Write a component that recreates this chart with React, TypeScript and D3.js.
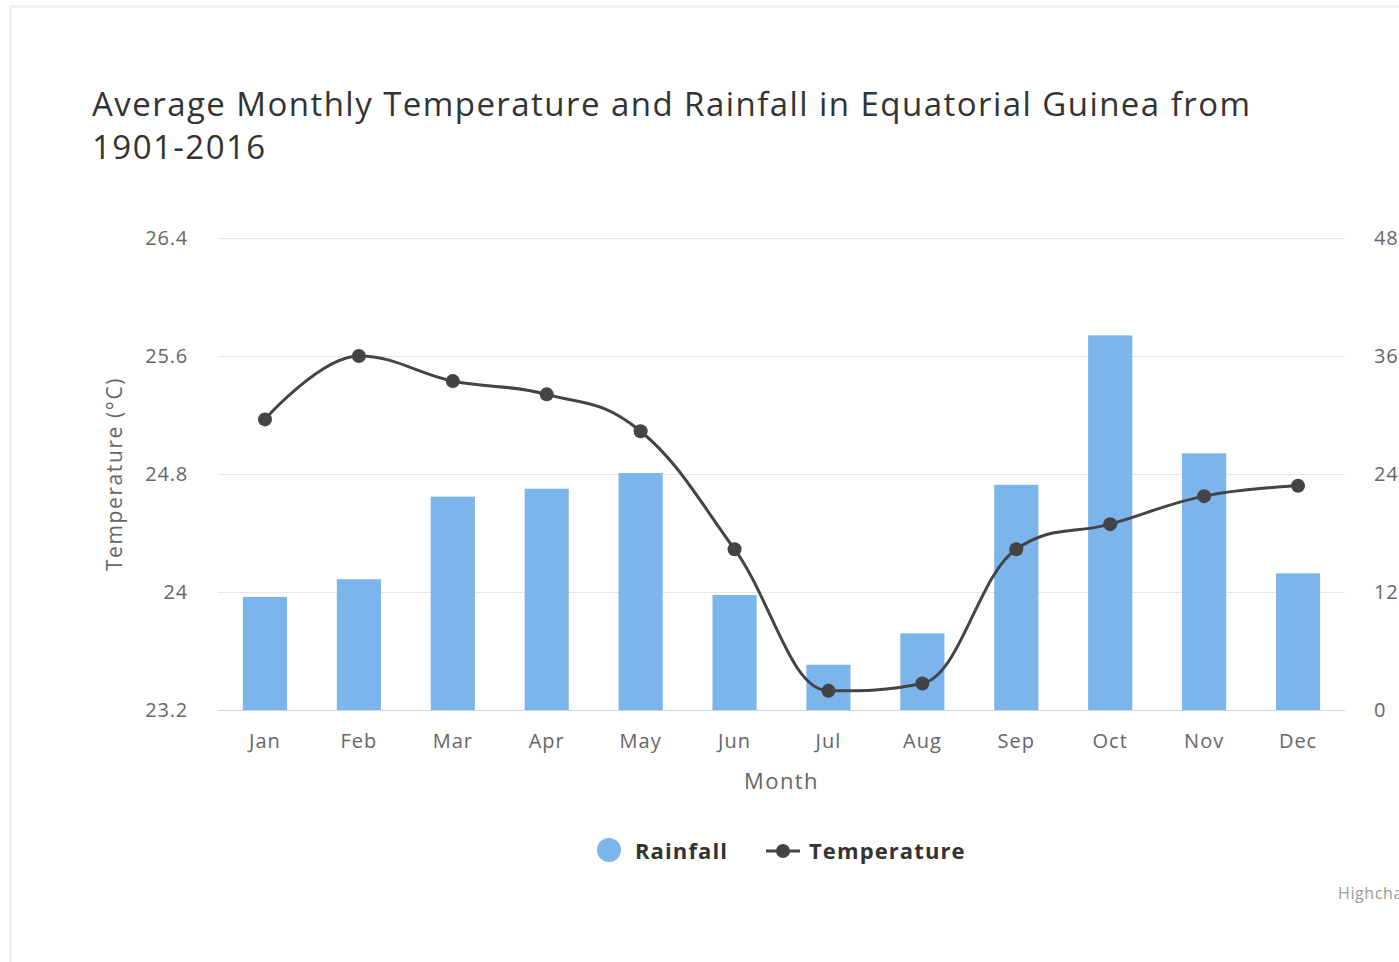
import * as d3 from "d3"

const months = ["Jan", "Feb", "Mar", "Apr", "May", "Jun", "Jul", "Aug", "Sep", "Oct", "Nov", "Dec"]
const rainfall = [11.5, 13.3, 21.7, 22.5, 24.1, 11.7, 4.6, 7.8, 22.9, 38.1, 26.1, 13.9]
const temperature = [25.17, 25.6, 25.43, 25.34, 25.09, 24.29, 23.33, 23.38, 24.29, 24.46, 24.65, 24.72]
const tempTicks = [23.2, 24, 24.8, 25.6, 26.4]
const rainTicks = [0, 12, 24, 36, 48]

const titleLines = ["Average Monthly Temperature and Rainfall in Equatorial Guinea from", "1901-2016"]

const font = "'Open Sans', 'Noto Sans', sans-serif"

// highcharts-like spline: control points pulled toward neighbours, no false extremes
function splinePath(pts: [number, number][]) {
    const smoothing = 1.5
    const denom = smoothing + 1
    const p = d3.path()
    let prevRight: [number, number] | null = null
    pts.forEach(([x, y], i) => {
        let left: [number, number] = [x, y]
        let right: [number, number] | null = null
        if (i > 0 && i < pts.length - 1) {
            const [lx, ly] = pts[i - 1]
            const [nx, ny] = pts[i + 1]
            const leftX = (smoothing * x + lx) / denom
            let leftY = (smoothing * y + ly) / denom
            const rightX = (smoothing * x + nx) / denom
            let rightY = (smoothing * y + ny) / denom
            const corr = ((rightY - leftY) * (rightX - x)) / (rightX - leftX) + y - rightY
            leftY += corr
            rightY += corr
            if (leftY > ly && leftY > y) { leftY = Math.max(ly, y); rightY = 2 * y - leftY }
            else if (leftY < ly && leftY < y) { leftY = Math.min(ly, y); rightY = 2 * y - leftY }
            if (rightY > ny && rightY > y) { rightY = Math.max(ny, y); leftY = 2 * y - rightY }
            else if (rightY < ny && rightY < y) { rightY = Math.min(ny, y); leftY = 2 * y - rightY }
            left = [leftX, leftY]
            right = [rightX, rightY]
        }
        if (i === 0) p.moveTo(x, y)
        else {
            const c1 = prevRight ?? pts[i - 1]
            p.bezierCurveTo(c1[0], c1[1], left[0], left[1], x, y)
        }
        prevRight = right
    })
    return p.toString()
}

export default function App() {
    const width = 1399
    const height = 962
    const margin = { top: 238, right: 54, bottom: 252, left: 218 }
    const plotBottom = height - margin.bottom
    const plotRight = width - margin.right

    const x = d3.scaleBand<string>().domain(months).range([margin.left, plotRight]).padding(0)
    const bw = x.bandwidth()
    const barW = bw * 0.47
    const cx = (m: string) => (x(m) ?? 0) + bw / 2

    const yT = d3.scaleLinear().domain([23.2, 26.4]).range([plotBottom, margin.top])
    const yR = d3.scaleLinear().domain([0, 48]).range([plotBottom, margin.top])

    const pts: [number, number][] = months.map((m, i) => [cx(m), yT(temperature[i])])

    return (
        <svg width={width} height={height} style={{ position: "absolute", left: 0, top: 0, display: "block" }}
            fontFamily={font}>
            <rect x={10.5} y={6.5} width={width} height={height} fill="#fff" stroke="#eef1f5" strokeWidth={3} />

            {titleLines.map((t, i) => (
                <text key={i} x={92} y={116 + i * 43} fontSize={33} letterSpacing={1.45} fill="#333">{t}</text>
            ))}

            {/* gridlines */}
            {tempTicks.slice(1).map(t => (
                <line key={t} x1={margin.left} x2={plotRight} y1={Math.round(yT(t)) + 0.5} y2={Math.round(yT(t)) + 0.5}
                    stroke="#e6e6e6" strokeWidth={1} />
            ))}

            {/* bars */}
            {months.map((m, i) => (
                <rect key={m} x={cx(m) - barW / 2} y={yR(rainfall[i])} width={barW} height={plotBottom - yR(rainfall[i])}
                    fill="#7cb5ec" />
            ))}

            <line x1={margin.left} x2={plotRight} y1={plotBottom + 0.5} y2={plotBottom + 0.5} stroke="#ccd6eb" />

            {/* temperature line */}
            <path d={splinePath(pts)} fill="none" stroke="#434348" strokeWidth={3} strokeLinejoin="round" />
            {pts.map(([px, py], i) => (
                <circle key={i} cx={px} cy={py} r={7} fill="#434348" />
            ))}

            {/* left axis */}
            {tempTicks.map(t => (
                <text key={t} x={188} y={yT(t) + 7} textAnchor="end" fontSize={20} letterSpacing={0.8} fill="#666">{t}</text>
            ))}
            <text transform={`translate(122,${(margin.top + plotBottom) / 2}) rotate(-90)`} textAnchor="middle"
                fontSize={21} letterSpacing={1.6} fill="#666">Temperature (°C)</text>

            {/* right axis */}
            {rainTicks.map(t => (
                <text key={t} x={1374} y={yR(t) + 7} fontSize={20} letterSpacing={0.8} fill="#666">{t}</text>
            ))}

            {/* x axis */}
            {months.map(m => (
                <text key={m} x={cx(m)} y={748} textAnchor="middle" fontSize={20} letterSpacing={1} fill="#666">{m}</text>
            ))}
            <text x={(margin.left + plotRight) / 2} y={789} textAnchor="middle" fontSize={22} letterSpacing={1.4}
                fill="#666">Month</text>

            {/* legend */}
            <circle cx={609} cy={850} r={12} fill="#7cb5ec" />
            <text x={635} y={859} fontSize={22} fontWeight="bold" letterSpacing={1.1} fill="#333">Rainfall</text>
            <line x1={766} x2={800} y1={851} y2={851} stroke="#434348" strokeWidth={3} />
            <circle cx={783} cy={851} r={7} fill="#434348" />
            <text x={809} y={859} fontSize={22} fontWeight="bold" letterSpacing={1.1} fill="#333">Temperature</text>

            <text x={1338} y={899} fontSize={16} letterSpacing={0.6} fill="#999">Highcharts.com</text>
        </svg>
    )
}
